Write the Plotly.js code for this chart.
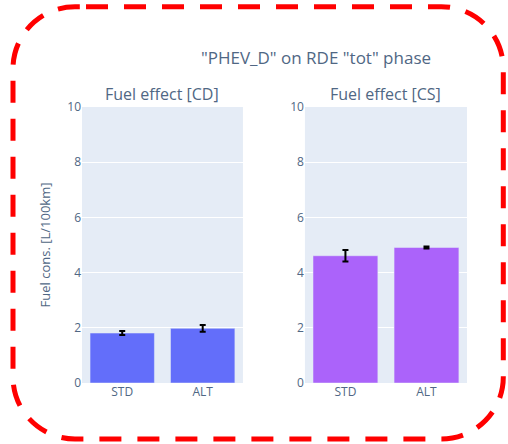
<!DOCTYPE html>
<html>
<head>
<meta charset="utf-8">
<script src="https://cdn.plot.ly/plotly-3.0.1.min.js"></script>
<style>html,body{margin:0;padding:0;background:#fff;}#chart{width:508px;height:444px;}</style>
</head>
<body>
<div id="chart"></div>
<script>
// ---- data ----
const categories = ['STD', 'ALT'];
const cdValues = [1.81, 1.98];
const cdErrors = [0.07, 0.12];
const csValues = [4.61, 4.91];
const csErrors = [0.21, 0.04];
const subplotTitles = ['Fuel effect [CD]', 'Fuel effect [CS]'];
const yTicks = [0, 2, 4, 6, 8, 10];

// ---- layout geometry ----
const W = 508, H = 444;
const M = {l: 82, r: 41, t: 107, b: 61};
const pw = W - M.l - M.r, ph = H - M.t - M.b;
const dom1 = [0, 0.418], dom2 = [0.579, 1];

function px(x) { return (x - M.l) / pw; }
function py(y) { return (H - M.b - y) / ph; }

// rounded dashed frame (pixel geometry -> paper coords)
const L = 13, R = 503.3, T = 6.7, B = 439, r = 62, k = 0.5523 * r;
function P(x, y) { return px(x).toFixed(5) + ',' + py(y).toFixed(5); }
const framePath =
  'M' + P(86, T) +
  ' L' + P(R - r, T) +
  ' C' + P(R - r + k, T) + ' ' + P(R, T + r - k) + ' ' + P(R, T + r) +
  ' L' + P(R, B - r) +
  ' C' + P(R, B - r + k) + ' ' + P(R - r + k, B) + ' ' + P(R - r, B) +
  ' L' + P(L + r, B) +
  ' C' + P(L + r - k, B) + ' ' + P(L, B - r + k) + ' ' + P(L, B - r) +
  ' L' + P(L, T + r) +
  ' C' + P(L, T + r - k) + ' ' + P(L + r - k, T) + ' ' + P(L + r, T) +
  ' L' + P(86, T);

const errStyle = {type: 'data', visible: true, color: 'black', thickness: 2, width: 3};

const traces = [
  {type: 'bar', x: categories, y: cdValues, xaxis: 'x', yaxis: 'y',
   marker: {color: '#636efa', line: {color: '#E5ECF6', width: 0.5}},
   error_y: Object.assign({array: cdErrors}, errStyle), showlegend: false},
  {type: 'bar', x: categories, y: csValues, xaxis: 'x2', yaxis: 'y2',
   marker: {color: '#ab63fa', line: {color: '#E5ECF6', width: 0.5}},
   error_y: Object.assign({array: csErrors}, errStyle), showlegend: false}
];

const axisY = {range: [0, 10], tickvals: yTicks, gridcolor: 'white', gridwidth: 1, zeroline: false,
  tickfont: {size: 12, color: '#506784'}, ticks: '', showline: false};
const axisX = {type: 'category', showgrid: false, tickfont: {size: 12, color: '#506784'}, ticks: '', showline: false};

const layout = {
  width: W, height: H,
  margin: M,
  paper_bgcolor: 'white',
  plot_bgcolor: '#E5ECF6',
  font: {family: '"Open Sans", verdana, arial, sans-serif', color: '#2a3f5f', size: 12},
  title: {text: '"PHEV_D" on RDE "tot" phase', font: {size: 17, color: '#506784'},
          xref: 'container', yref: 'container', x: 316 / W, xanchor: 'center', y: 1 - 58 / H, yanchor: 'middle'},
  showlegend: false,
  bargap: 0.2,
  xaxis: Object.assign({domain: dom1, anchor: 'y'}, axisX),
  xaxis2: Object.assign({domain: dom2, anchor: 'y2'}, axisX),
  yaxis: Object.assign({domain: [0, 1], anchor: 'x',
    title: {text: 'Fuel cons. [L/100km]', font: {size: 13, color: '#506784'}, standoff: 13}}, axisY),
  yaxis2: Object.assign({domain: [0, 1], anchor: 'x2'}, axisY),
  annotations: subplotTitles.map((t, i) => ({
    text: t, showarrow: false, xref: 'paper', yref: 'paper',
    x: i === 0 ? (dom1[0] + dom1[1]) / 2 : (dom2[0] + dom2[1]) / 2, y: 1,
    xanchor: 'center', yanchor: 'bottom', font: {size: 16, color: '#506784'}
  })),
  shapes: [{type: 'path', xref: 'paper', yref: 'paper', path: framePath,
    line: {color: 'red', width: 5, dash: '22px,16px'}, layer: 'above'}]
};

Plotly.newPlot('chart', traces, layout, {displayModeBar: false, staticPlot: true});
</script>
</body>
</html>
